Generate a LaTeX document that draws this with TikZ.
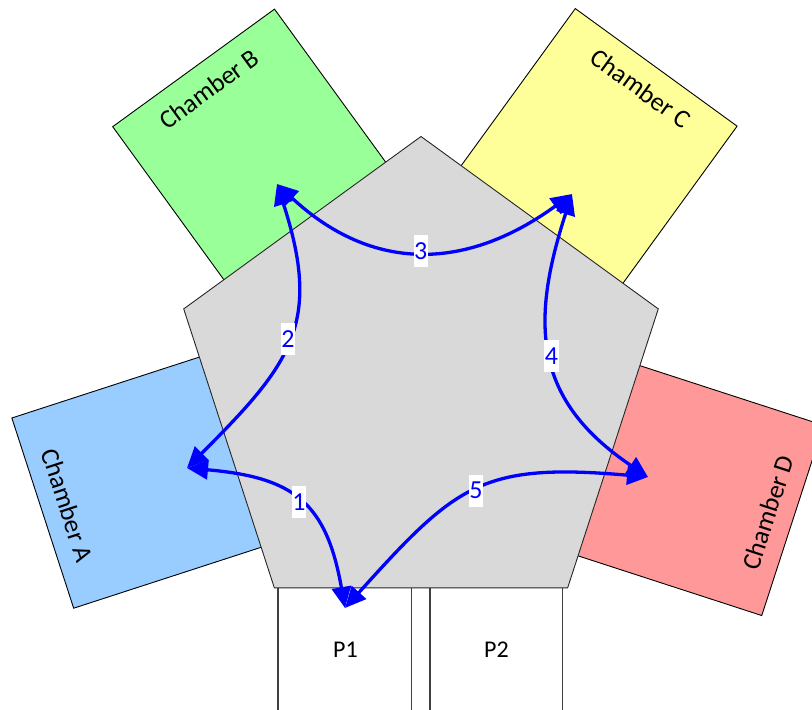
\documentclass[tikz,border=0pt]{standalone}
\usepackage{fontspec}
\setmainfont{Carlito}
\usetikzlibrary{arrows.meta}

\definecolor{chamberA}{RGB}{153,204,255}
\definecolor{chamberB}{RGB}{153,255,153}
\definecolor{chamberC}{RGB}{255,255,153}
\definecolor{chamberD}{RGB}{255,153,153}
\definecolor{hubgray}{RGB}{217,217,217}

\tikzset{
  chamber/.style={draw=black, line width=0.9pt},
  chlabel/.style={font=\fontsize{26}{30}\selectfont, inner sep=0pt},
  hub/.style={draw=black!85, fill=hubgray, line width=0.9pt},
  port/.style={draw=black!75, line width=1.2pt},
  portlabel/.style={font=\fontsize{24}{28}\selectfont},
  move/.style={draw=blue, line width=3.3pt,
    {Triangle[length=21pt,width=19pt]}-{Triangle[length=21pt,width=19pt]}},
  steplabel/.style={fill=white, text=blue, inner sep=0.5pt, minimum height=32pt,
    font=\fontsize{26}{30}\selectfont},
}

\begin{document}
\begin{tikzpicture}[x=1pt,y=1pt]
\useasboundingbox (0,0) rectangle (812,710);
\clip (0,0) rectangle (812,710);

\coordinate (ctr) at (421,324);

\begin{scope}[shift={(ctr)}, rotate=108]
\draw[chamber, fill=chamberA] (-104,180) rectangle (96,399);
\node[chlabel, rotate=-72] (labA) at (-4,373) {Chamber A};
\end{scope}
\begin{scope}[shift={(ctr)}, rotate=36]
\draw[chamber, fill=chamberB] (-97,180) rectangle (103,391);
\node[chlabel, rotate=36] (labB) at (3,365) {Chamber B};
\end{scope}
\begin{scope}[shift={(ctr)}, rotate=-36]
\draw[chamber, fill=chamberC] (-97,180) rectangle (103,396);
\node[chlabel, rotate=-36] (labC) at (3,370) {Chamber C};
\end{scope}
\begin{scope}[shift={(ctr)}, rotate=252]
\draw[chamber, fill=chamberD] (-87,180) rectangle (113,395);
\node[chlabel, rotate=72] (labD) at (13,369) {Chamber D};
\end{scope}

\draw[port] (278,-10) rectangle (411.7,130);
\draw[port] (430,-10) rectangle (562.3,130);
\node[portlabel] (labP1) at (345.5,60.5) {P1};
\node[portlabel] (labP2) at (496.5,60.5) {P2};

\begin{scope}[shift={(ctr)}]
\draw[hub] (90:249.5) -- (162:249.5) -- (234:249.5) -- (306:249.5) -- (18:249.5) -- cycle;
\end{scope}

\coordinate (ca) at (187,242);
\coordinate (cb) at (277,526);
\coordinate (cc) at (572,516);
\coordinate (cd) at (648,233);
\coordinate (p1) at (345,102);

\draw[move] (ca) to[out=-5, in=100, looseness=1.3] node[steplabel] (s1) {1} (p1);
\draw[move] (ca) to[out=45, in=-72, looseness=1.26] node[steplabel] (s2) {2} (cb);
\draw[move] (cb) to[out=-43, in=-144, looseness=1.13] node[steplabel] (s3) {3} (cc);
\draw[move] (cc) to[out=-108, in=146, looseness=1.2] node[steplabel] (s4) {4} (cd);
\draw[move] (cd) to[out=175, in=48, looseness=1.29] node[steplabel] (s5) {5} (p1);
\end{tikzpicture}
\end{document}
